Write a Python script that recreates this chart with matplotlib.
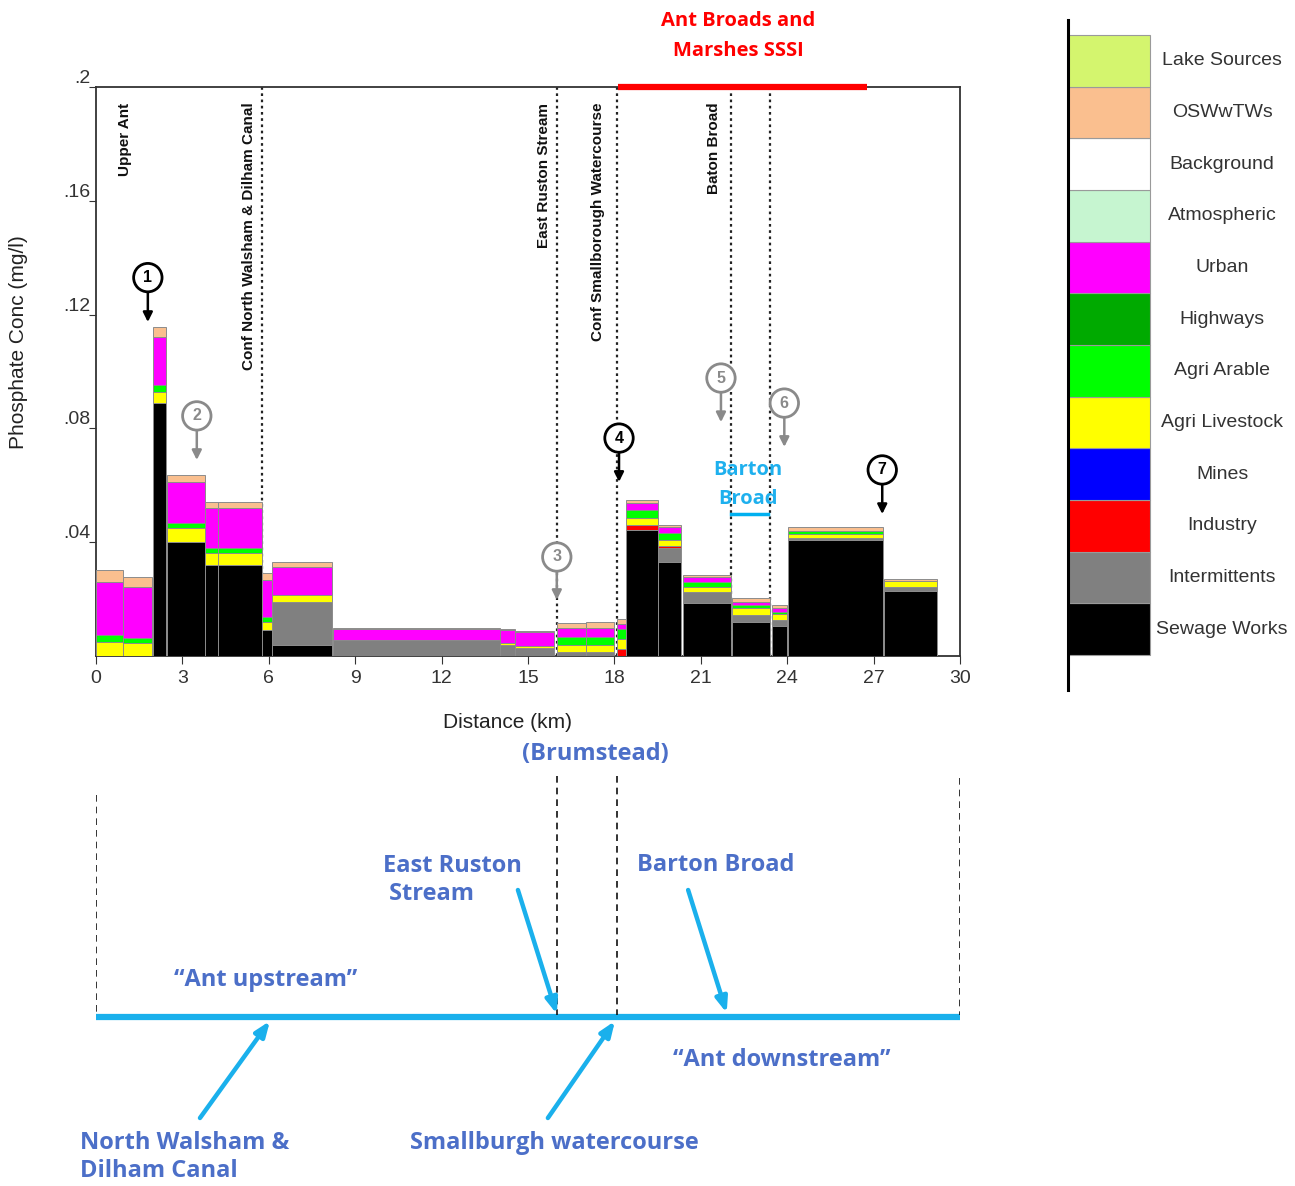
import numpy as np
import matplotlib
matplotlib.use("Agg")
import matplotlib.pyplot as plt

plt.rcParams.update({"font.family": ["Liberation Sans", "DejaVu Sans"]})

# ---- data: reaches along the River Ant (km) ----
reach_start = [0.0, 0.94, 1.98, 2.45, 3.79, 4.25, 5.77, 6.10, 8.23, 14.03, 14.55,
               16.0, 17.0, 18.1, 18.42, 19.53, 20.37, 22.1, 23.46, 24.04, 27.37]
reach_end = [0.94, 1.94, 2.43, 3.79, 4.25, 5.75, 6.10, 8.2, 14.03, 14.55, 15.9,
             17.0, 17.99, 18.4, 19.5, 20.3, 22.04, 23.4, 23.98, 27.34, 29.2]

# phosphate contribution per source (mg/l), stacked bottom -> top
sewage_works = [0, 0, 0.0888, 0.0402, 0.032, 0.032, 0.0091, 0.0039, 0, 0, 0,
                0, 0, 0, 0.0443, 0.0331, 0.0185, 0.0121, 0.0105, 0.0408, 0.023]
intermittents = [0, 0, 0, 0, 0, 0, 0, 0.0152, 0.0056, 0.0039, 0.0027,
                 0.0015, 0.0015, 0, 0, 0.0048, 0.0041, 0.0023, 0.0022, 0.0008, 0.0012]
industry = [0, 0, 0, 0, 0, 0, 0, 0, 0, 0, 0,
            0, 0, 0.0024, 0.0017, 0.0008, 0, 0, 0, 0, 0]
mines = [0] * 21
agri_livestock = [0.005, 0.0045, 0.0041, 0.0047, 0.0041, 0.0041, 0.0029, 0.0023, 0, 0.0008, 0.0008,
                  0.0024, 0.0024, 0.0035, 0.0024, 0.0021, 0.0018, 0.0024, 0.002, 0.0013, 0.0022]
agri_arable = [0.0024, 0.0017, 0.0024, 0.0017, 0.0018, 0.0018, 0.0018, 0, 0, 0, 0,
               0.0029, 0.0029, 0.0035, 0.0029, 0.0023, 0.0017, 0.0011, 0.0009, 0.0011, 0]
highways = [0] * 21
urban = [0.0187, 0.0182, 0.0169, 0.0147, 0.014, 0.014, 0.0129, 0.010, 0.0038, 0.0044, 0.005,
         0.0029, 0.0029, 0.0017, 0.0024, 0.0021, 0.0016, 0.0012, 0.0012, 0, 0]
atmospheric = [0] * 21
background = [0] * 21
oswwtws = [0.0041, 0.0035, 0.0035, 0.0023, 0.0023, 0.0023, 0.0023, 0.0017, 0.0003, 0.0005, 0.0004,
           0.0018, 0.0024, 0.0018, 0.0013, 0.0008, 0.0008, 0.0012, 0.0011, 0.0012, 0.0008]
lake_sources = [0] * 21

source_names = ["Sewage Works", "Intermittents", "Industry", "Mines", "Agri Livestock",
                "Agri Arable", "Highways", "Urban", "Atmospheric", "Background",
                "OSWwTWs", "Lake Sources"]
source_values = [sewage_works, intermittents, industry, mines, agri_livestock, agri_arable,
                 highways, urban, atmospheric, background, oswwtws, lake_sources]
source_colors = ["#000000", "#808080", "#ff0000", "#0000ff", "#ffff00", "#00ff00",
                 "#00aa00", "#ff00ff", "#c6f5d0", "#ffffff", "#fabf8f", "#d4f56e"]

# confluences / features (km) and their labels
feature_km = [5.76, 16.0, 18.1, 22.05, 23.4]
label_km = [1.0, 5.3, 15.55, 17.43, 21.45]
label_text = ["Upper Ant", "Conf North Walsham & Dilham Canal", "East Ruston Stream",
              "Conf Smallborough Watercourse", "Baton Broad"]

# numbered sampling points: km, circle centre, arrow tip (mg/l)
point_km = [1.8, 3.5, 16.0, 18.16, 21.7, 23.9, 27.3]
point_y = [0.133, 0.0844, 0.0348, 0.0766, 0.0977, 0.0889, 0.0654]
point_tip = [0.1174, 0.0689, 0.0197, 0.0612, 0.0822, 0.0735, 0.0499]
point_dark = [True, False, False, True, False, False, True]

sssi_km = [18.13, 26.77]
barton_km = [22.05, 23.33]

# ---- figure ----
W, H = 1295, 1186
fig = plt.figure(figsize=(W / 100, H / 100), dpi=100)
ax = fig.add_axes([96 / W, 1 - 656 / H, 864 / W, 569 / H])

left = np.array(reach_start)
width = np.array(reach_end) - left
bottom = np.zeros(len(left))
for vals, col in zip(source_values, source_colors):
    v = np.array(vals, dtype=float)
    m = v > 0
    if m.any():
        ax.bar(left[m], v[m], width=width[m], bottom=bottom[m], align="edge",
               color=col, edgecolor="#8c8c8c", linewidth=0.7, zorder=3)
    bottom += v

for k in feature_km:
    ax.axvline(k, color="#222222", ls=(0, (1.2, 1.6)), lw=1.6, zorder=1)
for k, t in zip(label_km, label_text):
    ax.text(k, 0.1945, t, rotation=90, ha="center", va="top", fontsize=11,
            fontweight="bold", color="#111111")

for i, (k, yc, yt, dark) in enumerate(zip(point_km, point_y, point_tip, point_dark)):
    c = "#000000" if dark else "#8a8a8a"
    ax.annotate("", xy=(k, yt), xytext=(k, yc - 0.0048),
                arrowprops=dict(arrowstyle="-|>", color=c, lw=1.8, mutation_scale=14,
                                shrinkA=0, shrinkB=0), zorder=5)
    ax.text(k, yc, str(i + 1), ha="center", va="center", fontsize=11.5,
            fontweight="bold", color=c, zorder=6,
            bbox=dict(boxstyle="circle,pad=0.42", fc="white", ec=c, lw=2))

ax.plot(sssi_km, [0.2, 0.2], color="#ff0000", lw=4.5, solid_capstyle="butt",
        clip_on=False, zorder=6)
ax.text(np.mean(sssi_km) - 0.15, 0.2178, "Ant Broads and\nMarshes SSSI", ha="center",
        va="center", fontsize=14.5, fontweight="bold", color="#ff0000",
        family="Open Sans", linespacing=1.65)
ax.plot(barton_km, [0.0499, 0.0499], color="#00b0f0", lw=2.5, zorder=4)
ax.text(np.mean(barton_km) - 0.05, 0.0604, "Barton\nBroad", ha="center", va="center",
        fontsize=14.5, fontweight="bold", color="#1eb0ee", family="Open Sans",
        linespacing=1.6)

ax.set_xlim(0, 30)
ax.set_ylim(0, 0.2)
ax.set_xticks(np.arange(0, 31, 3))
ax.set_yticks([0.04, 0.08, 0.12, 0.16, 0.2])
ax.set_yticklabels([".04", ".08", ".12", ".16", ".2"])
for lb in ax.get_yticklabels():
    lb.set_verticalalignment("bottom")
ax.tick_params(axis="y", length=5, pad=-1, labelsize=14, colors="#333333")
ax.tick_params(axis="x", length=6, pad=4, labelsize=14, colors="#333333")
for s in ax.spines.values():
    s.set_color("#333333")
    s.set_linewidth(1.3)
ax.set_xlabel("Distance (km)", fontsize=15, color="#222222")
ax.xaxis.set_label_coords((507 - 96) / 864, -(713 - 656) / 569)
ax.set_ylabel("Phosphate Conc (mg/l)", fontsize=15, color="#222222")
ax.yaxis.set_label_coords(-(96 - 28) / 864, (656 - 342) / 569)

# ---- legend panel ----
lg = fig.add_axes([1068 / W, 1 - 690 / H, 227 / W, 670 / H])
idx = np.arange(len(source_names))
lg.barh(idx, [1] * len(idx), height=1, left=0, color=source_colors,
        edgecolor="#9a9a9a", linewidth=0.8)
for i, n in zip(idx, source_names):
    lg.text(1.88, i, n, ha="center", va="center", fontsize=14, color="#333333")
lg.set_xlim(0, 227 / 82)
lg.set_ylim(-1.18, 11.79)
for s in ["top", "right", "bottom"]:
    lg.spines[s].set_visible(False)
lg.spines["left"].set_linewidth(2.2)
lg.set_xticks([])
lg.set_yticks([])
lg.patch.set_alpha(0)

# ---- schematic of the river below ----
sc = fig.add_axes([96 / W, 0, 864 / W, (H - 740) / H])
sc.set_xlim(0, 30)
sc.set_ylim(H, 740)
sc.axis("off")
cyan = "#1ab0ec"
blue = "#4c6fc8"
river_y = 1017
sc.plot([0, 30], [river_y, river_y], color=cyan, lw=4.5, solid_capstyle="butt")
for k, top in zip([0, 16.0, 18.1, 30], [795, 776, 776, 778]):
    sc.plot([k, k], [top, river_y - 2], color="#111111", ls=(0, (4, 3)), lw=1.2)

tf = dict(family="Open Sans", fontweight="bold", fontsize=17, color=blue)
sc.text(17.33, 754, "(Brumstead)", ha="center", va="center", **tf)
sc.text(9.97, 880, "East Ruston\n Stream", ha="left", va="center", linespacing=1.25, **tf)
sc.text(18.78, 865, "Barton Broad", ha="left", va="center", **tf)
sc.text(5.9, 980, "\u201cAnt upstream\u201d", ha="center", va="center", **tf)
sc.text(23.82, 1060, "\u201cAnt downstream\u201d", ha="center", va="center", **tf)
sc.text(-0.56, 1157, "North Walsham &\nDilham Canal", ha="left", va="center", linespacing=1.25, **tf)
sc.text(10.9, 1143, "Smallburgh watercourse", ha="left", va="center", **tf)

arrows = [((14.65, 890), (16.0, 1014)), ((20.56, 890), (21.9, 1013)),
          ((3.61, 1118), (6.04, 1021)), ((15.69, 1118), (18.02, 1021))]
for (x0, y0), (x1, y1) in arrows:
    sc.annotate("", xy=(x1, y1), xytext=(x0, y0),
                arrowprops=dict(arrowstyle="-|>,head_width=0.35,head_length=0.9",
                                color=cyan, lw=3.2, shrinkA=0, shrinkB=0))

fig.savefig("out.png", dpi=100)
